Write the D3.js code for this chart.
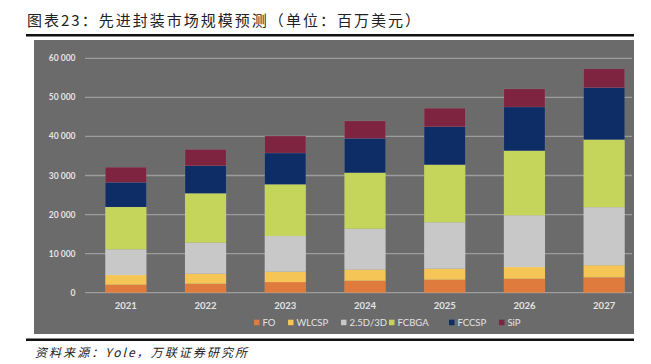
<!DOCTYPE html>
<html lang="zh">
  <head>
    <meta charset="UTF-8" />
    <title>先进封装市场规模预测</title>
    <script src="https://d3js.org/d3.v7.min.js"></script>
    <style>
      body {
        margin: 0;
        background: #fff;
      }
      svg text {
        font-family: Lato, "Open Sans", sans-serif;
      }
    </style>
  </head>
  <body>
    <svg id="chart" width="651" height="364"></svg>
    <script>
      // data (millions USD)
      const years = ["2021", "2022", "2023", "2024", "2025", "2026", "2027"];
      const seriesNames = ["FO", "WLCSP", "2.5D/3D", "FCBGA", "FCCSP", "SiP"];
      const fo = [2050, 2300, 2740, 3070, 3330, 3580, 3940];
      const wlcsp = [2480, 2560, 2640, 2820, 2810, 3000, 3100];
      const d25 = [6580, 7940, 9130, 10490, 11880, 13230, 14850];
      const fcbga = [10820, 12640, 13230, 14330, 14740, 16540, 17300];
      const fccsp = [6330, 7060, 8020, 8810, 9730, 11180, 13310];
      const sip = [3840, 4150, 4340, 4430, 4710, 4610, 4790];
      const yTicks = [0, 10000, 20000, 30000, 40000, 50000, 60000];

      const colors = ["#e07b3e", "#f5c555", "#c8c8c8", "#c5d45a", "#0e2d66", "#7e2440"];
      const legendX = [254, 288, 341, 389, 449, 499];

      const svg = d3.select("#chart");

      // title + rules
      svg.append("text")
        .attr("x", 27)
        .attr("y", 26)
        .attr("textLength", 393)
        .attr("lengthAdjust", "spacing")
        .style("font-family", '"Noto Sans CJK SC", sans-serif')
        .style("font-size", "15px")
        .attr("fill", "#222")
        .text("图表23：先进封装市场规模预测（单位：百万美元）");
      svg.append("rect").attr("x", 26).attr("y", 34).attr("width", 608).attr("height", 2.5).attr("fill", "#111");

      // grey panel
      svg.append("rect").attr("x", 34).attr("y", 40).attr("width", 600).attr("height", 294).attr("fill", "#6b6b6b");

      const x = d3.scaleBand().domain(years).range([86, 644]).paddingInner(0.485).paddingOuter(0.2425);
      const y = d3.scaleLinear().domain([0, 60000]).range([292.7, 58.3]);

      // gridlines
      svg.append("g")
        .selectAll("line")
        .data(yTicks)
        .join("line")
        .attr("x1", 85)
        .attr("x2", 632)
        .attr("y1", (d) => y(d))
        .attr("y2", (d) => y(d))
        .attr("stroke", "#9c9c9c")
        .attr("stroke-width", 1.3);

      // y labels
      const fmt = (v) => (v === 0 ? "0" : d3.format(",")(v).replace(",", " "));
      svg.append("g")
        .selectAll("text")
        .data(yTicks)
        .join("text")
        .attr("x", 75.5)
        .attr("y", (d) => y(d) + 3)
        .attr("text-anchor", "end")
        .attr("fill", "#e4e4e4")
        .style("font-size", "8.5px")
        .style("font-weight", "bold")
        .text(fmt);

      // stacked bars
      const rows = years.map((yr, i) => ({
        year: yr,
        FO: fo[i],
        WLCSP: wlcsp[i],
        "2.5D/3D": d25[i],
        FCBGA: fcbga[i],
        FCCSP: fccsp[i],
        SiP: sip[i],
      }));
      const stacked = d3.stack().keys(seriesNames)(rows);

      svg.append("g")
        .selectAll("g")
        .data(stacked)
        .join("g")
        .attr("fill", (d, i) => colors[i])
        .selectAll("rect")
        .data((d) => d)
        .join("rect")
        .attr("x", (d) => x(d.data.year))
        .attr("width", x.bandwidth())
        .attr("y", (d) => y(d[1]))
        .attr("height", (d) => y(d[0]) - y(d[1]))
        .attr("stroke", "rgba(255,255,255,0.12)")
        .attr("stroke-width", 0.6);

      // x labels
      svg.append("g")
        .selectAll("text")
        .data(years)
        .join("text")
        .attr("x", (d) => x(d) + x.bandwidth() / 2)
        .attr("y", 308.5)
        .attr("text-anchor", "middle")
        .attr("fill", "#e4e4e4")
        .style("font-size", "9.5px")
        .style("font-weight", "bold")
        .text((d) => d);

      // legend
      const leg = svg.append("g")
        .selectAll("g")
        .data(seriesNames)
        .join("g")
        .attr("transform", (d, i) => `translate(${legendX[i]},322.5)`);
      leg.append("rect").attr("x", 0).attr("y", -2.8).attr("width", 5.5).attr("height", 5.5).attr("fill", (d, i) => colors[i]);
      leg.append("text")
        .attr("x", 8.5)
        .attr("y", 3.4)
        .attr("fill", "#e4e4e4")
        .style("font-size", "9.5px")
        .text((d) => d);

      // bottom rule + source
      svg.append("rect").attr("x", 26).attr("y", 338.5).attr("width", 608).attr("height", 2.5).attr("fill", "#111");
      svg.append("text")
        .attr("x", 35)
        .attr("y", 357)
        .attr("textLength", 212)
        .attr("lengthAdjust", "spacing")
        .style("font-family", '"Noto Sans CJK SC", sans-serif')
        .style("font-size", "12px")
        .style("font-style", "italic")
        .attr("fill", "#222")
        .text("资料来源：Yole，万联证券研究所");
    </script>
  </body>
</html>
